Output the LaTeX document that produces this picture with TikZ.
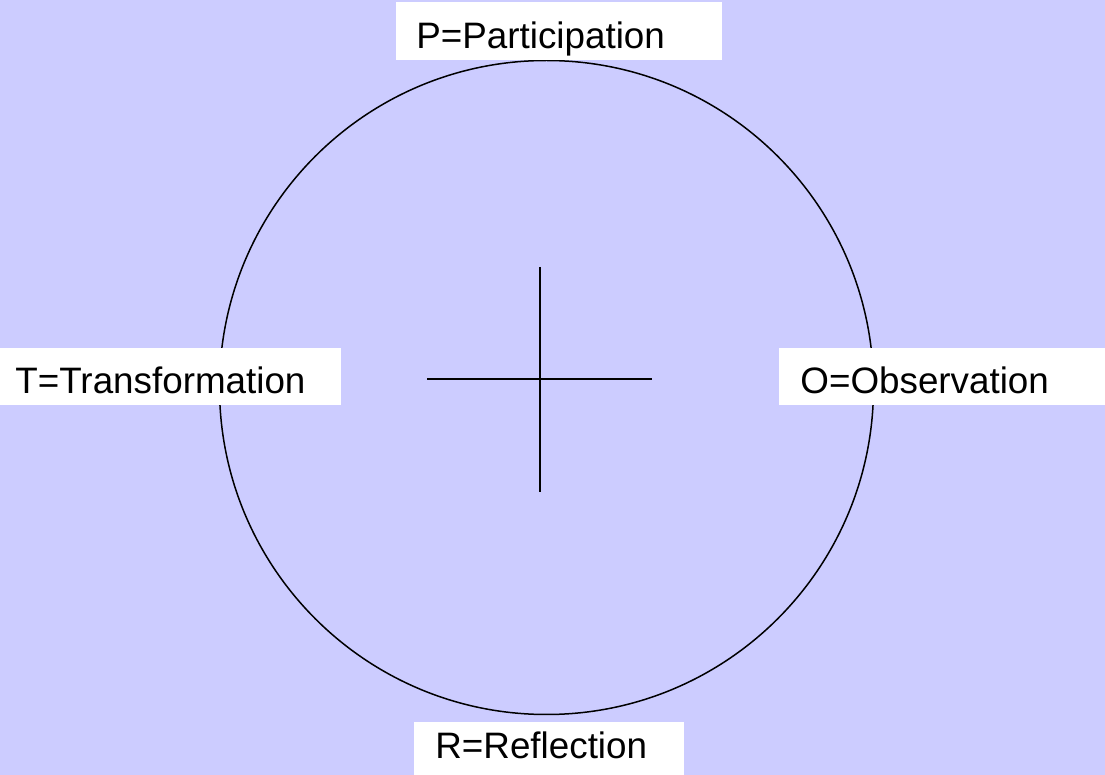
\documentclass[tikz,border=0pt]{standalone}
\usepackage{fontspec}
\setmainfont{Liberation Sans}
\usepackage{xcolor}
\definecolor{lavender}{RGB}{204,204,255}

\begin{document}
\begin{tikzpicture}[
    x=0.5pt, y=-0.5pt,
    label box/.style={fill=white, inner ysep=0pt, align=left, anchor=north west,
    font=\fontsize{18.4}{22}\selectfont},
    wheel/.style={circle, draw, line width=0.75pt, minimum size=327pt, inner sep=0pt},
    axis/.style={line width=0.75pt}
]

\fill[lavender] (0,0) rectangle (1105,775);
\useasboundingbox (0,0) rectangle (1105,775);

\node[wheel] (circle) at (546.5,387.5) {};

\coordinate (north) at (540,267);
\coordinate (south) at (540,492);
\coordinate (west) at (427,379);
\coordinate (east) at (652,379);
\draw[axis] (north) -- (south);
\draw[axis] (west) -- (east);

\node[label box, inner xsep=10pt, text width=143pt, text height=23pt, text depth=6pt] (p) at (396,2) {P=Participation};
\node[label box, inner xsep=7.5pt, text width=155.5pt, text height=22.5pt, text depth=6pt] (t) at (0,348) {T=Transformation};
\node[label box, inner xsep=10.5pt, text width=142pt, text height=22.5pt, text depth=6pt] (o) at (779,348) {O=Observation};
\node[label box, inner xsep=10.5pt, text width=114pt, text height=18pt, text depth=9pt] (r) at (414,722) {R=Reflection};

\end{tikzpicture}
\end{document}
